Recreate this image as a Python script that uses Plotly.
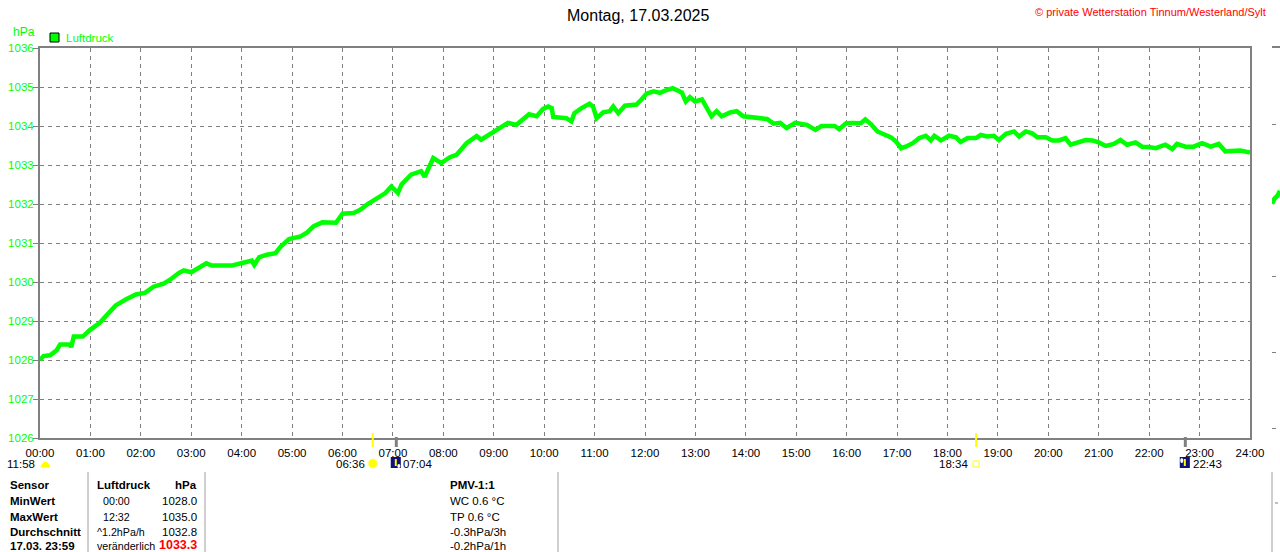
import plotly.graph_objects as go

W, H = 1280, 552

# Luftdruck, Montag 17.03.2025 (Stunde, hPa)
hours = [0.00, 0.07, 0.20, 0.33, 0.40, 0.60, 0.62, 0.67, 0.85, 1.00, 1.18, 1.35, 1.50, 1.70, 1.90,
         2.08, 2.25, 2.45, 2.58, 2.75, 2.85, 3.00, 3.18, 3.30, 3.40, 3.80, 4.05, 4.20, 4.25, 4.35,
         4.50, 4.67, 4.77, 4.87, 4.94, 5.17, 5.30, 5.43, 5.60, 5.87, 6.00, 6.22, 6.35, 6.50, 6.70,
         6.85, 6.97, 7.10, 7.17, 7.36, 7.56, 7.63, 7.80, 7.96, 8.13, 8.26, 8.46, 8.66, 8.75, 8.99,
         9.22, 9.28, 9.45, 9.58, 9.70, 9.85, 9.98, 10.08, 10.15, 10.18, 10.44, 10.54, 10.60, 10.74,
         10.90, 10.97, 11.04, 11.17, 11.30, 11.37, 11.47, 11.60, 11.83, 11.93, 12.03, 12.17, 12.30,
         12.40, 12.55, 12.73, 12.81, 12.89, 12.99, 13.13, 13.23, 13.32, 13.42, 13.52, 13.69, 13.82,
         13.95, 14.22, 14.42, 14.55, 14.68, 14.81, 14.98, 15.21, 15.38, 15.50, 15.76, 15.85, 15.99,
         16.12, 16.28, 16.37, 16.48, 16.61, 16.75, 16.88, 16.98, 17.08, 17.17, 17.31, 17.44, 17.57,
         17.67, 17.74, 17.87, 18.03, 18.17, 18.26, 18.40, 18.56, 18.66, 18.79, 18.92, 19.02, 19.16,
         19.32, 19.42, 19.55, 19.68, 19.78, 19.95, 20.08, 20.21, 20.34, 20.44, 20.57, 20.74, 20.87,
         21.00, 21.14, 21.30, 21.43, 21.56, 21.73, 21.86, 21.99, 22.13, 22.32, 22.46, 22.55, 22.72,
         22.88, 23.05, 23.22, 23.38, 23.51, 23.64, 23.81, 24.00]
pressure = [1028.00, 1028.10, 1028.12, 1028.25, 1028.40, 1028.40, 1028.33, 1028.60, 1028.60, 1028.78,
            1028.95, 1029.17, 1029.40, 1029.55, 1029.68, 1029.72, 1029.88, 1029.96, 1030.06, 1030.23,
            1030.30, 1030.25, 1030.38, 1030.48, 1030.42, 1030.42, 1030.50, 1030.55, 1030.44, 1030.64,
            1030.70, 1030.74, 1030.90, 1031.00, 1031.10, 1031.17, 1031.27, 1031.43, 1031.53, 1031.52,
            1031.75, 1031.77, 1031.85, 1032.00, 1032.15, 1032.28, 1032.45, 1032.28, 1032.50, 1032.75,
            1032.84, 1032.70, 1033.18, 1033.05, 1033.20, 1033.26, 1033.56, 1033.74, 1033.65, 1033.84,
            1034.00, 1034.08, 1034.03, 1034.16, 1034.30, 1034.25, 1034.44, 1034.50, 1034.46, 1034.23,
            1034.20, 1034.12, 1034.33, 1034.46, 1034.57, 1034.50, 1034.20, 1034.35, 1034.38, 1034.50,
            1034.33, 1034.52, 1034.55, 1034.68, 1034.83, 1034.89, 1034.85, 1034.91, 1034.97, 1034.86,
            1034.63, 1034.74, 1034.63, 1034.68, 1034.46, 1034.25, 1034.38, 1034.25, 1034.35, 1034.38,
            1034.25, 1034.20, 1034.18, 1034.06, 1034.08, 1033.95, 1034.08, 1034.03, 1033.90, 1034.00,
            1034.00, 1033.92, 1034.07, 1034.08, 1034.07, 1034.17, 1034.05, 1033.86, 1033.77, 1033.71,
            1033.60, 1033.43, 1033.47, 1033.56, 1033.69, 1033.75, 1033.63, 1033.75, 1033.63, 1033.75,
            1033.71, 1033.59, 1033.69, 1033.69, 1033.77, 1033.73, 1033.75, 1033.64, 1033.80, 1033.86,
            1033.73, 1033.86, 1033.81, 1033.71, 1033.71, 1033.63, 1033.63, 1033.69, 1033.52, 1033.58,
            1033.64, 1033.63, 1033.58, 1033.49, 1033.54, 1033.64, 1033.52, 1033.58, 1033.47, 1033.46,
            1033.43, 1033.52, 1033.41, 1033.54, 1033.47, 1033.47, 1033.56, 1033.47, 1033.54, 1033.35,
            1033.37, 1033.37, 1033.32]

# angeschnittenes Nachbardiagramm rechts
next_hours = [0.00, 0.05, 0.10, 0.16]
next_values = [1030.95, 1031.02, 1031.05, 1031.12]

tick_hours = list(range(25))
tick_labels = ["%02d:00" % h for h in tick_hours]
y_ticks = list(range(1026, 1037))

# Sonne / Mond
day_length = "11:58"
sunrise_h, sunrise_lbl = 6.6, "06:36"
sunset_h, sunset_lbl = 18.567, "18:34"
moonset_h, moonset_lbl = 7.067, "07:04"
moonrise_h, moonrise_lbl = 22.717, "22:43"

# Tabelle unten
col_sensor = ["Sensor", "MinWert", "MaxWert", "Durchschnitt", "17.03. 23:59"]
col_info = ["Luftdruck", "00:00", "12:32", "^1.2hPa/h", "veränderlich"]
col_value = ["hPa", "1028.0", "1035.0", "1032.8", "1033.3"]
col_pmv = ["PMV-1:1", "WC 0.6 °C", "TP 0.6 °C", "-0.3hPa/3h", "-0.2hPa/1h"]
row_y = [485, 501, 517, 532, 546]

GREEN = "#00ff00"
GRAY = "#808080"
FONT = "Liberation Sans"


def px(x):
    return x / W


def py(y):
    return 1 - y / H


fig = go.Figure()
fig.add_trace(go.Scatter(x=hours, y=pressure, mode="lines",
                         line=dict(color=GREEN, width=4.5), name="Luftdruck",
                         hoverinfo="skip"))
fig.add_trace(go.Scatter(x=next_hours, y=next_values, mode="lines",
                         line=dict(color=GREEN, width=4.5), xaxis="x2", yaxis="y2",
                         hoverinfo="skip"))

ydom = [py(438), py(48)]
fig.update_layout(
    width=W, height=H, margin=dict(l=0, r=0, t=0, b=0, pad=0),
    paper_bgcolor="white", plot_bgcolor="white", showlegend=False,
    font=dict(family=FONT, size=11.5, color="black"),
    xaxis=dict(domain=[px(40), px(1250)], range=[0, 24], tickvals=tick_hours,
               ticktext=tick_labels, showgrid=True, gridcolor=GRAY, griddash="4px,4px",
               gridwidth=1, showline=True, mirror=True, linecolor=GRAY, linewidth=2,
               ticks="", zeroline=False, automargin=False, ticklabelstandoff=3,
               tickfont=dict(size=11.5, color="black")),
    yaxis=dict(domain=ydom, range=[1026, 1036], tickvals=y_ticks, showgrid=True,
               gridcolor=GRAY, griddash="4px,4px", gridwidth=1, showline=True,
               mirror=True, linecolor=GRAY, linewidth=2, ticks="outside", ticklen=5,
               tickcolor=GRAY, zeroline=False, automargin=False, ticklabelstandoff=-3,
               tickfont=dict(size=11.5, color=GREEN)),
    xaxis2=dict(domain=[px(1272), 1], range=[0, 0.16], side="top", anchor="y2",
                showline=True, linecolor=GRAY, linewidth=2, showgrid=False,
                showticklabels=False, ticks="", zeroline=False, automargin=False),
    yaxis2=dict(domain=ydom, range=[1027.87, 1033], anchor="x2", dtick=1,
                showgrid=True, gridcolor=GRAY, griddash="4px,4px", showticklabels=False,
                ticks="", zeroline=False, showline=False, automargin=False),
)

ann = []


def text(x, y, s, anchor="left", size=11.5, color="black", bold=False):
    if bold:
        s = "<b>" + s + "</b>"
    ann.append(dict(x=px(x), y=py(y), xref="paper", yref="paper", text=s,
                    showarrow=False, xanchor=anchor, yanchor="middle",
                    font=dict(family=FONT, size=size, color=color)))


text(638, 15, "Montag, 17.03.2025", anchor="center", size=16)
text(1268, 12, "© private Wetterstation Tinnum/Westerland/Sylt", anchor="right",
     size=11, color="red")
text(11, 32, "hPa", color=GREEN, size=12)
text(64, 38, "Luftdruck", color=GREEN, size=11.5)

# Sonnen-/Mondzeiten unter der Achse
text(37, 464, day_length, anchor="right")
text(367, 464, sunrise_lbl, anchor="right")
text(401, 464, moonset_lbl)
text(970, 464, sunset_lbl, anchor="right")
text(1191, 464, moonrise_lbl)

for i, yy in enumerate(row_y):
    text(8, yy, col_sensor[i], bold=True)
    if i == 0:
        text(95, yy, col_info[i], bold=True)
    else:
        text(95 if i in (3, 4) else 101, yy, col_info[i], size=10.7)
    if i == 4:
        text(199, yy - 1, col_value[i], anchor="right", size=12.5, color="red", bold=True)
    else:
        text(199, yy, col_value[i], anchor="right", bold=(i == 0))
    text(448, yy, col_pmv[i], bold=(i == 0))

fig.update_layout(annotations=ann)

shapes = [
    # Legendenkaestchen
    dict(type="rect", xref="paper", yref="paper", x0=px(50), x1=px(59), y0=py(42), y1=py(33),
         fillcolor=GREEN, line=dict(color="black", width=1)),
    # Sonnenauf-/untergang
    dict(type="line", xref="x", yref="paper", x0=sunrise_h, x1=sunrise_h, y0=py(447), y1=py(433),
         line=dict(color="#ffff00", width=2)),
    dict(type="line", xref="x", yref="paper", x0=sunset_h, x1=sunset_h, y0=py(447), y1=py(433),
         line=dict(color="#ffff00", width=2)),
    # Mondunter-/aufgang
    dict(type="line", xref="x", yref="paper", x0=moonset_h, x1=moonset_h, y0=py(447), y1=py(437),
         line=dict(color=GRAY, width=3)),
    dict(type="line", xref="x", yref="paper", x0=moonrise_h, x1=moonrise_h, y0=py(447), y1=py(437),
         line=dict(color=GRAY, width=3)),
    # Symbole
    dict(type="circle", xref="x", yref="paper", x0=sunrise_h - 0.09, x1=sunrise_h + 0.09,
         y0=py(468), y1=py(459), fillcolor="#ffff00", line=dict(color="#ffff80", width=1)),
    dict(type="rect", xref="x", yref="paper", x0=sunset_h - 0.06, x1=sunset_h + 0.06,
         y0=py(467), y1=py(461), fillcolor="white", line=dict(color="#ffff00", width=1)),
    dict(type="path", xref="paper", yref="paper",
         path="M %f %f Q %f %f %f %f Z" % (px(41), py(467), px(45), py(457), px(50), py(467)),
         fillcolor="#ffff00", line=dict(color="#ffff00", width=1)),
]
for mh, up in ((moonset_h, False), (moonrise_h, True)):
    shapes.append(dict(type="rect", xref="x", yref="paper", x0=mh - 0.11, x1=mh + 0.09,
                       y0=py(468), y1=py(457), fillcolor="#10107a", line=dict(width=0)))
    shapes.append(dict(type="line", xref="x", yref="paper", x0=mh - 0.01, x1=mh - 0.01,
                       y0=py(466), y1=py(459), line=dict(color="#ffff00", width=2)))
    shapes.append(dict(type="circle", xref="x", yref="paper", x0=mh - 0.1 if up else mh + 0.02,
                       x1=mh - 0.04 if up else mh + 0.08, y0=py(463) if up else py(468),
                       y1=py(458) if up else py(464), fillcolor="white", line=dict(width=0)))

# Tabellentrennlinien
for sx in (88, 205, 558, 1272):
    shapes.append(dict(type="line", xref="paper", yref="paper", x0=px(sx), x1=px(sx),
                       y0=0, y1=py(472), line=dict(color="#a0a0a0", width=1)))
shapes.append(dict(type="line", xref="paper", yref="paper", x0=px(1275), x1=px(1280),
                   y0=py(503), y1=py(503), line=dict(color=GRAY, width=1, dash="3px,2px")))
fig.update_layout(shapes=shapes)

fig.write_html("out.html", config={"displayModeBar": False},
               post_script="document.body.style.margin='0';"
                           "document.body.style.overflow='hidden';")
